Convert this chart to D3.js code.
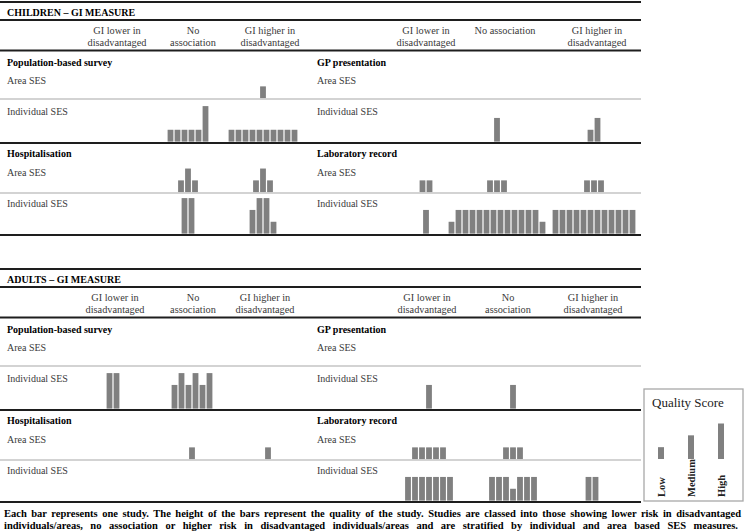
<!DOCTYPE html>
<html><head><meta charset="utf-8">
<script src="https://cdn.jsdelivr.net/npm/d3@7"></script>
<style>body{margin:0;background:#fff} svg{display:block}</style>
</head><body><svg id="c" width="745" height="532"></svg>
<script>
// ---------- DATA ----------
const columns = ["GI lower in disadvantaged", "No association", "GI higher in disadvantaged"];
const headerTwoLine = [["GI lower in", "disadvantaged"], ["No", "association"], ["GI higher in", "disadvantaged"]];
const headerChildRight = [["GI lower in", "disadvantaged"], ["No association"], ["GI higher in", "disadvantaged"]];
const cohortTitles = ["CHILDREN \u2013 GI MEASURE", "ADULTS \u2013 GI MEASURE"];
const measuresLeft = ["Population-based survey", "Hospitalisation"];
const measuresRight = ["GP presentation", "Laboratory record"];
const sesRows = ["Area SES", "Individual SES"];
const qualityLevels = ["Low", "Medium", "High"];
const legendQuality = [1, 2, 3];
// quality score of each study: 1 = Low, 2 = Medium, 3 = High; groups = [lower, none, higher]
const childPopArea   = [[], [], [1]];
const childPopIndiv  = [[], [1, 1, 1, 1, 1, 3], [1, 1, 1, 1, 1, 1, 1, 1, 1, 1]];
const childHospArea  = [[], [1, 2, 1], [1, 2, 1]];
const childHospIndiv = [[], [3, 3], [2, 3, 3, 1]];
const childGPArea    = [[], [], []];
const childGPIndiv   = [[], [2], [1, 2]];
const childLabArea   = [[1, 1], [1, 1, 1], [1, 1, 1]];
const childLabIndiv  = [[2], [1, 2, 2, 2, 2, 2, 2, 2, 2, 2, 2, 2, 2, 1], [2, 2, 2, 2, 2, 2, 2, 2, 2, 2, 2, 2]];
const adultPopArea   = [[], [], []];
const adultPopIndiv  = [[3, 3], [2, 3, 2, 3, 2, 3], []];
const adultHospArea  = [[], [1], [1]];
const adultHospIndiv = [[], [], []];
const adultGPArea    = [[], [], []];
const adultGPIndiv   = [[2], [2], []];
const adultLabArea   = [[1, 1, 1, 1, 1], [1, 1, 1], []];
const adultLabIndiv  = [[2, 2, 2, 2, 2, 2, 2], [2, 2, 2, 1, 2, 2, 2], [2, 2]];
const footnote = [
  "Each bar represents one study. The height of the bars represent the quality of the study. Studies are classed into those showing lower risk in disadvantaged",
  "individuals/areas, no association or higher risk in disadvantaged individuals/areas and are stratified by individual and area based SES measures."
];

// ---------- LAYOUT ----------
const svg = d3.select("#c");
const SERIF = "'Liberation Serif','Times New Roman',serif";
const BAR = "#808080", DARK = "#1e1e1e", LIGHT = "#c4c4c4", TXT = "#3a3a3a";
const pitch = 7, barW = 5.8;
const hScale = d3.scaleLinear().domain([0, 3]).range([0, 35.5]);
const lineX = [0, 641];

const cohorts = [
  { title: cohortTitles[0], y0: 0,
    left:  { heads: headerTwoLine,   headX: [117, 193, 270], barX: [113, 188, 263],
             blocks: [[childPopArea, childPopIndiv], [childHospArea, childHospIndiv]] },
    right: { heads: headerChildRight, headX: [426, 505, 597], barX: [426, 497, 594],
             blocks: [[childGPArea, childGPIndiv], [childLabArea, childLabIndiv]] } },
  { title: cohortTitles[1], y0: 267,
    left:  { heads: headerTwoLine, headX: [115, 193, 265], barX: [113, 192, 268],
             blocks: [[adultPopArea, adultPopIndiv], [adultHospArea, adultHospIndiv]] },
    right: { heads: headerTwoLine, headX: [427, 508, 593], barX: [429, 513, 592],
             blocks: [[adultGPArea, adultGPIndiv], [adultLabArea, adultLabIndiv]] } }
];
const blockRows = [
  { label: 62, area: 80, sep: 99, indiv: 111, bottom: 143 },
  { label: 153, area: 172, sep: 193, indiv: 203, bottom: 235 }
];

function hline(g, y, color, w) {
  g.append("line").attr("x1", lineX[0]).attr("x2", lineX[1]).attr("y1", y).attr("y2", y)
    .attr("stroke", color).attr("stroke-width", w);
}
function txt(g, x, y, s, opt = {}) {
  return g.append("text").attr("x", x).attr("y", y).attr("dy", "0.35em")
    .attr("font-family", SERIF).attr("font-size", opt.size || 10)
    .attr("font-weight", opt.bold ? "bold" : "normal")
    .attr("fill", opt.fill || (opt.bold ? "#000" : TXT))
    .attr("text-anchor", opt.anchor || "start").text(s);
}
function drawGroups(g, groups, colScale, baseY) {
  groups.forEach((vals, ci) => {
    const cx = colScale(columns[ci]);
    const n = vals.length;
    const xs = d3.scaleLinear().domain([0, n]).range([cx - n * pitch / 2, cx + n * pitch / 2]);
    g.selectAll(null).data(vals).enter().append("rect")
      .attr("x", (d, i) => xs(i) + (pitch - barW) / 2)
      .attr("width", barW)
      .attr("y", d => baseY - hScale(d))
      .attr("height", d => hScale(d))
      .attr("fill", BAR);
  });
}

cohorts.forEach(c => {
  const g = svg.append("g").attr("transform", `translate(0,${c.y0})`);
  hline(g, 2, DARK, 2.2);
  txt(g, 7, 12, c.title, { bold: true, size: 10 });
  hline(g, 20, DARK, 2);
  hline(g, 50.5, DARK, 2);
  [c.left, c.right].forEach((p, pi) => {
    const headScale = d3.scaleOrdinal().domain(columns).range(p.headX);
    const barScale = d3.scaleOrdinal().domain(columns).range(p.barX);
    columns.forEach((col, ci) => {
      p.heads[ci].forEach((ln, li) => txt(g, headScale(col), 30 + li * 12, ln, { anchor: "middle", size: 10.3 }));
    });
    const lx = pi === 0 ? 7 : 317;
    const names = pi === 0 ? measuresLeft : measuresRight;
    blockRows.forEach((r, bi) => {
      txt(g, lx, r.label, names[bi], { bold: true });
      txt(g, lx, r.area, sesRows[0]);
      txt(g, lx, r.indiv, sesRows[1]);
      drawGroups(g, p.blocks[bi][0], barScale, r.sep - 0.8);
      drawGroups(g, p.blocks[bi][1], barScale, r.bottom - 1.4);
    });
  });
  blockRows.forEach(r => { hline(g, r.sep, LIGHT, 1.5); hline(g, r.bottom, DARK, 2); });
});

// ---------- LEGEND ----------
const lg = svg.append("g");
lg.append("rect").attr("x", 644).attr("y", 389).attr("width", 99).attr("height", 112)
  .attr("fill", "#fff").attr("stroke", "#a8a8a8").attr("stroke-width", 1.3);
txt(lg, 652, 402, "Quality Score", { size: 13, fill: "#222" });
const lx = d3.scalePoint().domain(qualityLevels).range([661, 721]);
lg.selectAll(null).data(legendQuality).enter().append("rect")
  .attr("x", (d, i) => lx(qualityLevels[i]) - 3)
  .attr("width", 6)
  .attr("y", d => 459 - hScale(d))
  .attr("height", d => hScale(d))
  .attr("fill", BAR);
qualityLevels.forEach(q => {
  lg.append("text").attr("transform", `translate(${lx(q)},497) rotate(-90)`)
    .attr("dy", "0.35em").attr("font-family", SERIF).attr("font-size", 10.5)
    .attr("font-weight", "bold").attr("fill", "#222").text(q);
});

// ---------- FOOTNOTE ----------
const fnWidths = [737, 734];
footnote.forEach((s, i) => {
  const t = svg.append("text").attr("x", 4).attr("y", 517 + i * 12)
    .attr("font-family", SERIF).attr("font-size", 10.5).attr("font-weight", "bold")
    .attr("fill", "#000").text(s);
  const L = t.node().getComputedTextLength();
  const spaces = (s.match(/ /g) || []).length;
  t.attr("word-spacing", (fnWidths[i] - L) / spaces);
});
</script></body></html>
